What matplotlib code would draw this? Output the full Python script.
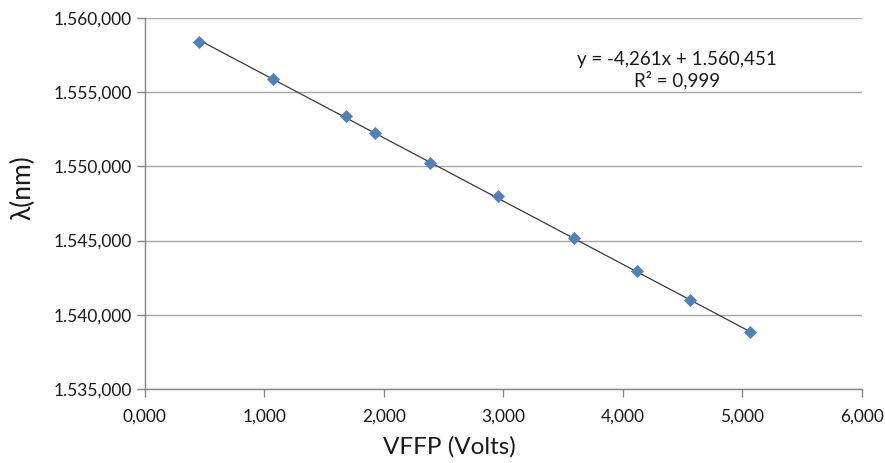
import matplotlib
matplotlib.use('Agg')
import matplotlib.pyplot as plt
from matplotlib.ticker import FuncFormatter, MultipleLocator
import numpy as np

# Measured tuning points: filter voltage vs. wavelength
vffp_volts = [0.454, 1.071, 1.685, 1.925, 2.390, 2.954, 3.593, 4.117, 4.561, 5.068]
wavelength_nm = [1558.40, 1555.91, 1553.40, 1552.27, 1550.25, 1548.01, 1545.18, 1542.95, 1541.02, 1538.82]

# Linear trendline coefficients
slope = -4.261
intercept = 1560.451
r_squared = 0.999

plt.rcParams['font.family'] = ['Lato', 'DejaVu Sans']


def comma_fmt(v, pos=None):
    # 1,234.567 -> 1.234,567
    s = f"{v:,.3f}"
    return s.replace(',', '#').replace('.', ',').replace('#', '.')


fig = plt.figure(figsize=(8.85, 4.63), dpi=100)
ax = fig.add_axes([0.1635, 0.1598, 0.8102, 0.8013])

x_fit = np.array([min(vffp_volts), max(vffp_volts)])
ax.plot(x_fit, slope * x_fit + intercept, color='#3a3a3a', linewidth=0.9, zorder=2)
ax.scatter(vffp_volts, wavelength_nm, marker='D', s=38, color='#4F81BD',
           edgecolors='#4F81BD', linewidths=0.5, zorder=3)

ax.set_xlim(0, 6)
ax.set_ylim(1535, 1560)
ax.xaxis.set_major_locator(MultipleLocator(1))
ax.yaxis.set_major_locator(MultipleLocator(5))
ax.xaxis.set_major_formatter(FuncFormatter(comma_fmt))
ax.yaxis.set_major_formatter(FuncFormatter(comma_fmt))

ax.grid(axis='y', color='#a6a6a6', linewidth=1.0)
ax.set_axisbelow(True)
for side in ['top', 'right']:
    ax.spines[side].set_visible(False)
for side in ['left', 'bottom']:
    ax.spines[side].set_color('#868686')
    ax.spines[side].set_linewidth(1.0)
ax.tick_params(axis='both', colors='#868686', length=6, width=1.0,
               labelsize=12.5, labelcolor='#1a1a1a')
ax.tick_params(axis='x', pad=8)
ax.tick_params(axis='y', pad=3)

# axis titles placed by figure position
fig.text(449 / 885, 1 - 447 / 463, 'VFFP (Volts)', fontsize=17.5, color='#1a1a1a',
         ha='center', va='center')
fig.text(23 / 885, 1 - 188 / 463, 'λ(nm)', fontsize=19, color='#1a1a1a',
         ha='center', va='center', rotation=90)

eq_text = f"y = {comma_fmt(slope)}x + {comma_fmt(intercept)}\nR² = {comma_fmt(r_squared)}"
ax.text(0.742, 0.86, eq_text, transform=ax.transAxes, ha='center', va='center',
        fontsize=13.5, color='#1a1a1a', linespacing=1.15)

plt.savefig('out.png', dpi=100)
